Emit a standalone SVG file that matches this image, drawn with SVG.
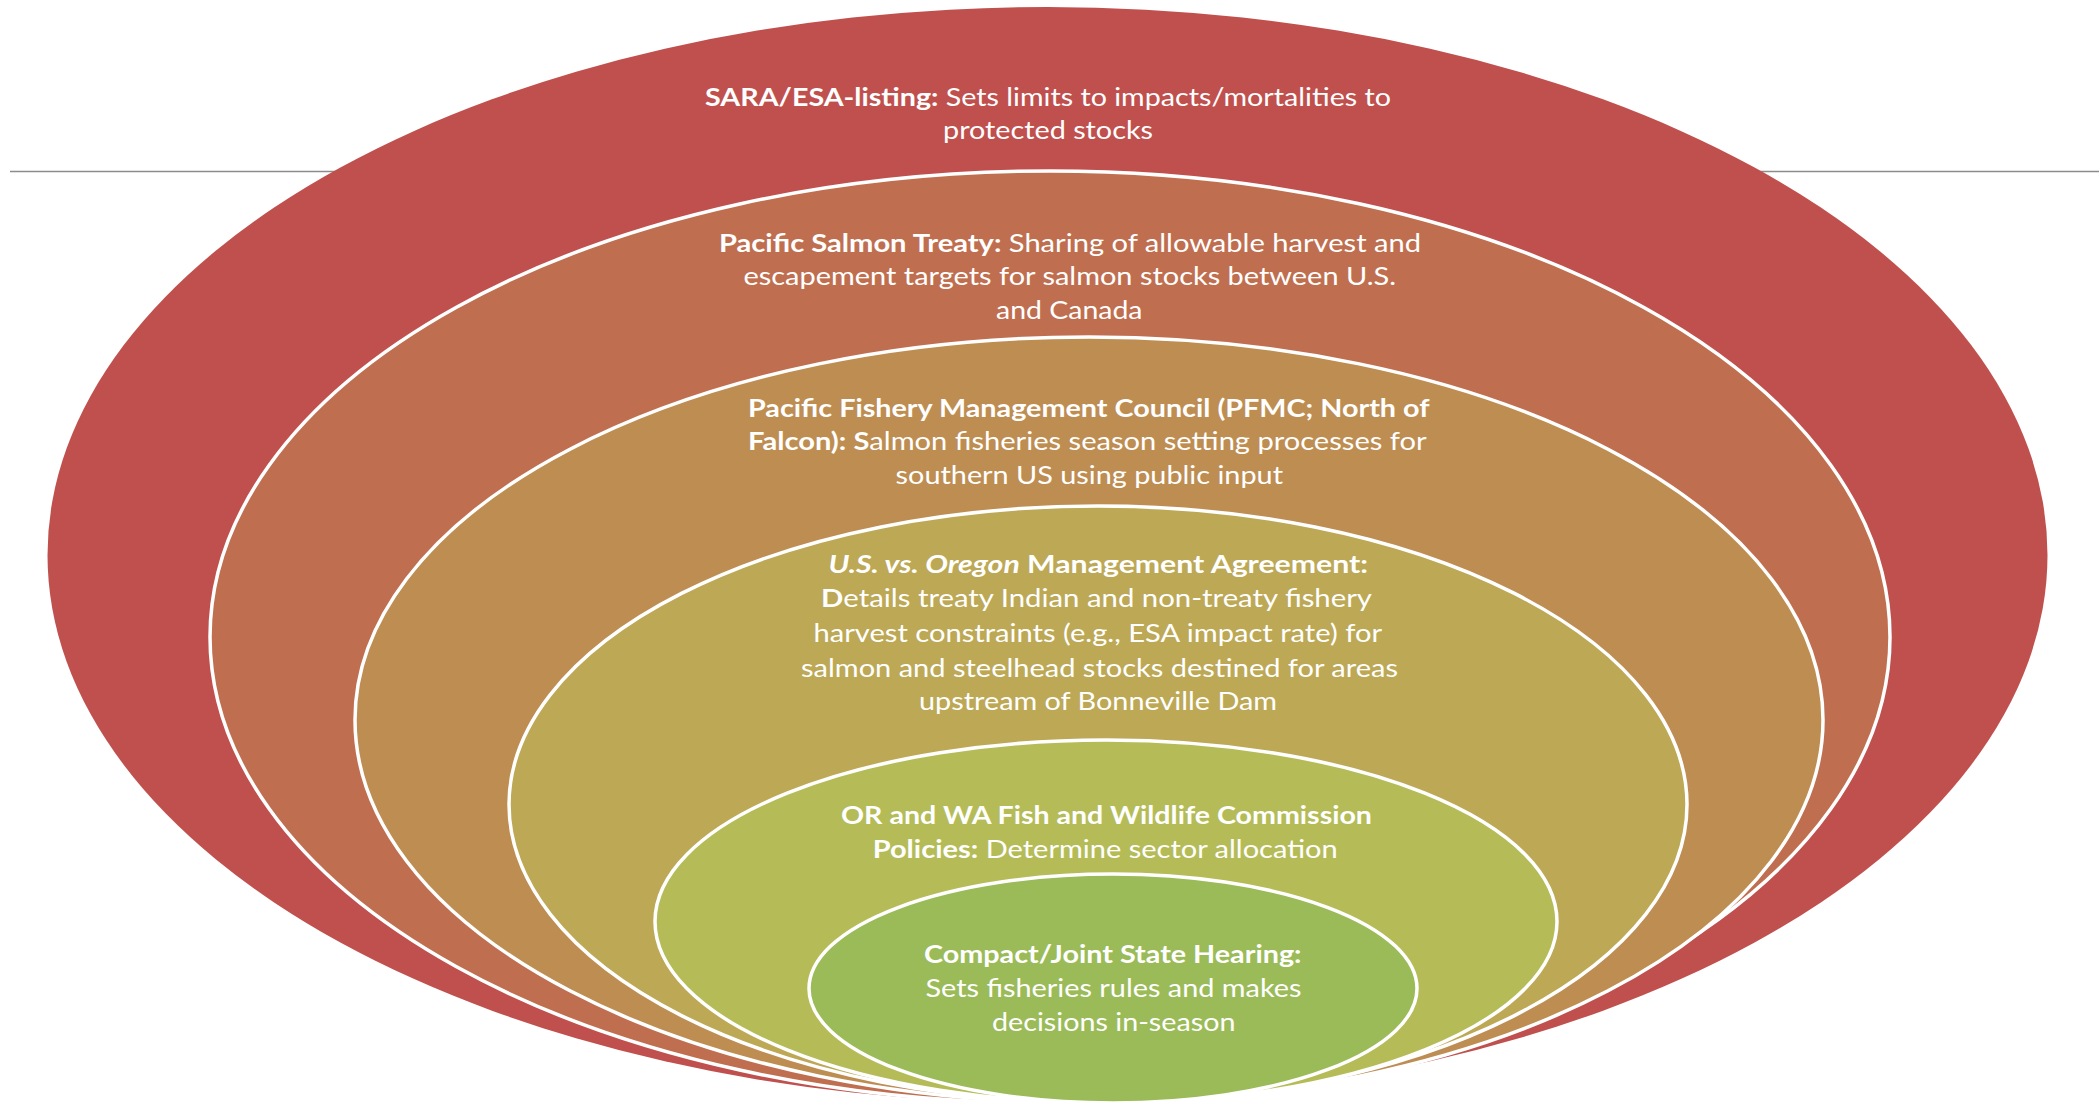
<svg xmlns="http://www.w3.org/2000/svg" width="2099" height="1103" viewBox="0 0 2099 1103">
<style>
  .ring { stroke: #FFFFFF; stroke-width: 3.5; }
  .outer { stroke: none; }
  text { font-family: Lato, "Open Sans", "Liberation Sans", sans-serif; font-size: 25px; fill: #FFFFFF; }
  .b { font-weight: 700; }
  .bi { font-weight: 700; font-style: italic; }
  .rule { stroke: #8C8C8C; stroke-width: 1.6; }
</style>
<rect width="2099" height="1103" fill="#FFFFFF"/>
<g id="rule-line">
  <line class="rule" x1="10" y1="171.5" x2="2099" y2="171.5"/>
</g>
<g id="connectors"></g>
<g id="node-sara-esa">
  <ellipse class="outer" cx="1047.5" cy="555" rx="1000" ry="548" fill="#C0504D"/>
  <text x="705" y="106" textLength="686" lengthAdjust="spacingAndGlyphs"><tspan class="b">SARA/ESA-listing:</tspan> Sets limits to impacts/mortalities to</text>
  <text x="943" y="139" textLength="210" lengthAdjust="spacingAndGlyphs">protected stocks</text>
</g>
<g id="node-pacific-salmon-treaty">
  <ellipse class="ring" cx="1050" cy="637" rx="840" ry="466" fill="#BF6F4F"/>
  <text x="719" y="252" textLength="702" lengthAdjust="spacingAndGlyphs"><tspan class="b">Pacific Salmon Treaty:</tspan> Sharing of allowable harvest and</text>
  <text x="743.5" y="285" textLength="652.5" lengthAdjust="spacingAndGlyphs">escapement targets for salmon stocks between U.S.</text>
  <text x="996" y="319" textLength="146.5" lengthAdjust="spacingAndGlyphs">and Canada</text>
</g>
<g id="node-pfmc">
  <ellipse class="ring" cx="1089" cy="720" rx="734" ry="383" fill="#BE8D52"/>
  <text x="748" y="417" textLength="681.5" lengthAdjust="spacingAndGlyphs" class="b">Pacific Fishery Management Council (PFMC; North of</text>
  <text x="748" y="450" textLength="678.6" lengthAdjust="spacingAndGlyphs"><tspan class="b">Falcon): S</tspan>almon fisheries season setting processes for</text>
  <text x="895.6" y="484" textLength="387.4" lengthAdjust="spacingAndGlyphs">southern US using public input</text>
</g>
<g id="node-us-v-oregon">
  <ellipse class="ring" cx="1098" cy="804.5" rx="589" ry="298.5" fill="#BDA855"/>
  <text x="828.5" y="573" textLength="539.5" lengthAdjust="spacingAndGlyphs"><tspan class="bi">U.S. vs. Oregon</tspan><tspan class="b"> Management Agreement:</tspan></text>
  <text x="821" y="607" textLength="551" lengthAdjust="spacingAndGlyphs"><tspan class="b">D</tspan>etails treaty Indian and non-treaty fishery</text>
  <text x="813.5" y="642" textLength="568.5" lengthAdjust="spacingAndGlyphs">harvest constraints (e.g., ESA impact rate) for</text>
  <text x="801" y="677" textLength="597" lengthAdjust="spacingAndGlyphs">salmon and steelhead stocks destined for areas</text>
  <text x="919" y="710" textLength="358" lengthAdjust="spacingAndGlyphs">upstream of Bonneville Dam</text>
</g>
<g id="node-or-wa-commission">
  <ellipse class="ring" cx="1106" cy="921.5" rx="451" ry="181.5" fill="#B5BC57"/>
  <text x="841" y="824" textLength="531" lengthAdjust="spacingAndGlyphs" class="b">OR and WA Fish and Wildlife Commission</text>
  <text x="872.7" y="858" textLength="465" lengthAdjust="spacingAndGlyphs"><tspan class="b">Policies:</tspan> Determine sector allocation</text>
</g>
<g id="node-compact-hearing">
  <ellipse class="ring" cx="1113" cy="988.5" rx="304" ry="114.5" fill="#9BBB59"/>
  <text x="924" y="963" textLength="377.5" lengthAdjust="spacingAndGlyphs" class="b">Compact/Joint State Hearing:</text>
  <text x="925.5" y="997" textLength="376" lengthAdjust="spacingAndGlyphs">Sets fisheries rules and makes</text>
  <text x="992" y="1031" textLength="243.5" lengthAdjust="spacingAndGlyphs">decisions in-season</text>
</g>
</svg>
